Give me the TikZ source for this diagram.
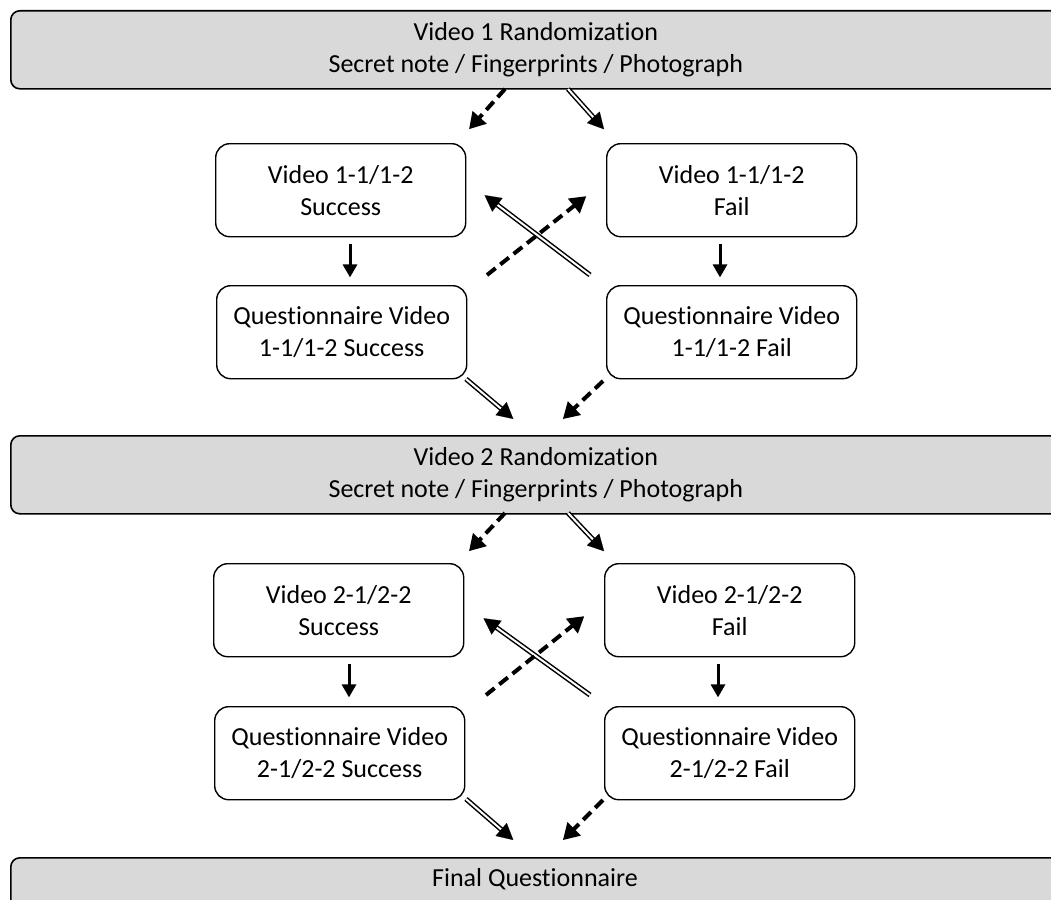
\documentclass[tikz,border=0pt]{standalone}
\usepackage{fontspec}
\setmainfont{Carlito}[Ligatures={NoCommon}]
\usetikzlibrary{arrows.meta,calc}
\begin{document}
\begin{tikzpicture}[x=1pt,y=-1pt,
  txt/.style={font=\fontsize{26}{32}\selectfont},
  bigbox/.style={txt, draw=black, line width=1.6pt, fill={rgb,255:red,217;green,217;blue,217}, rounded corners=9pt, minimum height=78pt, minimum width=1050pt, anchor=north west, align=center, inner sep=0pt},
  smallbox/.style={txt, draw=black, line width=1.4pt, fill=white, rounded corners=14pt, minimum height=93pt, minimum width=250pt, anchor=north west, align=center, inner sep=0pt},
  dasharrow/.style={line width=4pt, dash pattern=on 11pt off 6pt, -{Triangle[length=16pt,width=18pt]}, shorten >=-3pt},
  downarrow/.style={line width=3pt, -{Triangle[length=13pt,width=14pt]}},
  dblline/.style={line width=1.5pt, double=white, double distance=2pt, shorten >=12pt},
  dbltip/.style={line width=0.1pt, -{Triangle[length=16pt,width=17pt]}, shorten >=-3pt}
]
\useasboundingbox (0,0) rectangle (1051,899);
\clip (0,0) rectangle (1051,899);

% big boxes
\node[bigbox] (r1) at (10,10) {Video 1 Randomization\\Secret note / Fingerprints / Photograph};
\node[bigbox] (r2) at (10,435) {Video 2 Randomization\\Secret note / Fingerprints / Photograph};
\node[bigbox, minimum height=60pt] (fq) at (10,857) {};
\node[txt] (fqt) at (535,879) {Final Questionnaire};

% section 1 boxes
\node[smallbox] (s1) at (215,143) {Video 1-1/1-2\\Success};
\node[smallbox] (f1) at (606,143) {Video 1-1/1-2\\Fail};
\node[smallbox] (qs1) at (216,285) {Questionnaire Video\\1-1/1-2 Success};
\node[smallbox] (qf1) at (606,285) {Questionnaire Video\\1-1/1-2 Fail};

% section 2 boxes
\node[smallbox] (s2) at (213,563) {Video 2-1/2-2\\Success};
\node[smallbox] (f2) at (604,563) {Video 2-1/2-2\\Fail};
\node[smallbox] (qs2) at (214,706) {Questionnaire Video\\2-1/2-2 Success};
\node[smallbox] (qf2) at (604,706) {Questionnaire Video\\2-1/2-2 Fail};

% coordinates for free arrow ends (section 1)
\coordinate (a1s) at (505,89);  \coordinate (a1e) at (471,127);
\coordinate (b1s) at (568,89);  \coordinate (b1e) at (602,127);
\coordinate (c1s) at (590,275); \coordinate (c1e) at (487,197);
\coordinate (d1s) at (487,275); \coordinate (d1e) at (584,198);
\coordinate (e1s) at (466,379); \coordinate (e1e) at (511,417);
\coordinate (g1s) at (603,381); \coordinate (g1e) at (565,417);
% section 2
\coordinate (a2s) at (505,513); \coordinate (a2e) at (471,549);
\coordinate (b2s) at (568,513); \coordinate (b2e) at (602,549);
\coordinate (c2s) at (590,695); \coordinate (c2e) at (486,620);
\coordinate (d2s) at (486,695); \coordinate (d2e) at (582,618);
\coordinate (e2s) at (466,799); \coordinate (e2e) at (511,838);
\coordinate (g2s) at (603,800); \coordinate (g2e) at (565,838);

% section 1 arrows
\draw[dasharrow] (a1s) -- (a1e);
\draw[dblline] (b1s) -- (b1e); \draw[dbltip] ($(b1e)!12pt!(b1s)$) -- (b1e);
\draw[downarrow] (s1.south -| 350,0) ++(0,7) -- ++(0,33);
\draw[downarrow] (f1.south -| 720,0) ++(0,7) -- ++(0,33);
\draw[dblline] (c1s) -- (c1e); \draw[dbltip] ($(c1e)!12pt!(c1s)$) -- (c1e);
\draw[dasharrow] (d1s) -- (d1e);
\draw[dblline] (e1s) -- (e1e); \draw[dbltip] ($(e1e)!12pt!(e1s)$) -- (e1e);
\draw[dasharrow] (g1s) -- (g1e);

% section 2 arrows
\draw[dasharrow] (a2s) -- (a2e);
\draw[dblline] (b2s) -- (b2e); \draw[dbltip] ($(b2e)!12pt!(b2s)$) -- (b2e);
\draw[downarrow] (s2.south -| 349,0) ++(0,7) -- ++(0,33);
\draw[downarrow] (f2.south -| 718,0) ++(0,7) -- ++(0,33);
\draw[dblline] (c2s) -- (c2e); \draw[dbltip] ($(c2e)!12pt!(c2s)$) -- (c2e);
\draw[dasharrow] (d2s) -- (d2e);
\draw[dblline] (e2s) -- (e2e); \draw[dbltip] ($(e2e)!12pt!(e2s)$) -- (e2e);
\draw[dasharrow] (g2s) -- (g2e);
\end{tikzpicture}
\end{document}
